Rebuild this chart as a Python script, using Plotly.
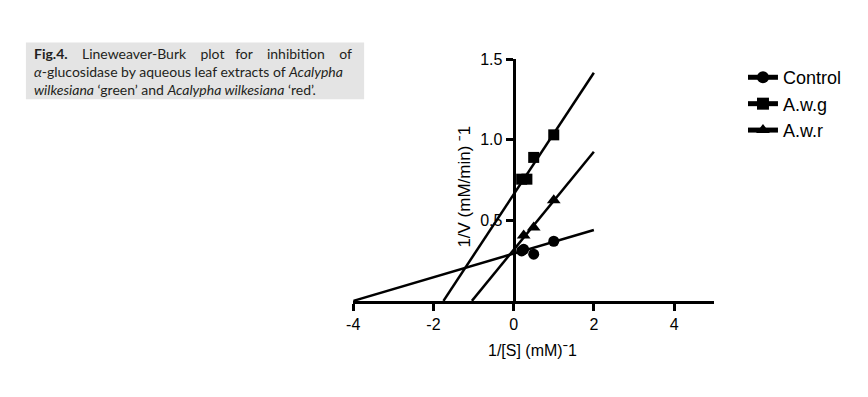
import plotly.graph_objects as go

# page body keeps its default 8px margin, so the figure is 868-16 by 397-16
OFF = 8
W, H = 868 - 2 * OFF, 397 - 2 * OFF


def px(x):
    return (x - OFF) / W


def py(y):
    return 1 - (y - OFF) / H


# ---- data ----
ctrl_x = [0.2, 0.25, 0.5, 1.0]
ctrl_y = [0.31, 0.32, 0.29, 0.37]
awg_x = [0.2, 0.33, 0.5, 1.0]
awg_y = [0.755, 0.755, 0.89, 1.03]
awr_x = [0.25, 0.5, 1.0]
awr_y = [0.405, 0.455, 0.625]

ctrl_fit_x = [-4.0, 2.0]
ctrl_fit_y = [0.0, 0.44]
awg_fit_x = [-1.75, 2.0]
awg_fit_y = [0.0, 1.415]
awr_fit_x = [-1.04, 2.0]
awr_fit_y = [0.0, 0.925]

series_names = ["Control", "A.w.g", "A.w.r"]
series_symbols = ["circle", "square", "triangle-up"]

x_ticks = [-4, -2, 0, 2, 4]
x_ticktext = ["-4", "-2", "0", "2", "4"]
y_ticks = [0.5, 1.0, 1.5]
y_ticktext = ["0.5", "1.0", "1.5"]

AX_FONT = "Liberation Sans, Arial, sans-serif"

fig = go.Figure()

data = [(ctrl_x, ctrl_y, ctrl_fit_x, ctrl_fit_y),
        (awg_x, awg_y, awg_fit_x, awg_fit_y),
        (awr_x, awr_y, awr_fit_x, awr_fit_y)]
sizes = [11, 11, 12]
for (dx, dy, fx, fy), name, sym, sz in zip(data, series_names, series_symbols, sizes):
    fig.add_trace(go.Scatter(x=fx, y=fy, mode="lines", line=dict(color="black", width=2.5),
                             showlegend=False, hoverinfo="skip", cliponaxis=False))
    fig.add_trace(go.Scatter(x=dx, y=dy, mode="markers",
                             marker=dict(symbol=sym, size=sz, color="black"),
                             showlegend=False, cliponaxis=False))
    fig.add_trace(go.Scatter(x=[None], y=[None], mode="lines+markers", name=name,
                             line=dict(color="black", width=3),
                             marker=dict(symbol=sym, size=sz - 1, color="black")))

xd0, xd1 = px(349), px(713)
yd0, yd1 = py(299), py(52)
x0_paper = xd0 + (xd1 - xd0) * 4 / 9

fig.update_layout(
    width=W, height=H,
    margin=dict(l=0, r=0, t=0, b=0),
    paper_bgcolor="white", plot_bgcolor="white",
    font=dict(family=AX_FONT, color="black"),
    xaxis=dict(domain=[xd0, xd1], range=[-4, 5], showgrid=False, zeroline=False,
               showline=True, linecolor="black", linewidth=3,
               ticks="outside", ticklen=7, tickwidth=3, tickcolor="black",
               tickvals=x_ticks, ticktext=x_ticktext,
               tickfont=dict(size=16, family=AX_FONT, color="black")),
    yaxis=dict(domain=[yd0, yd1], range=[0, 1.5], anchor="free", position=x0_paper,
               showgrid=False, zeroline=False,
               showline=True, linecolor="black", linewidth=3,
               ticks="outside", ticklen=7, tickwidth=3, tickcolor="black",
               tickvals=y_ticks, ticktext=y_ticktext,
               tickfont=dict(size=16, family=AX_FONT, color="black")),
    legend=dict(x=px(742), y=py(52), xanchor="left", yanchor="top",
                font=dict(size=18, family=AX_FONT, color="black"),
                bgcolor="rgba(0,0,0,0)", tracegroupgap=0, itemsizing="constant"),
    showlegend=True,
)

fig.add_annotation(text="1/[S] (mM)ˉ1", x=px(530), y=py(350), xref="paper", yref="paper",
                   showarrow=False, font=dict(size=16, family=AX_FONT, color="black"),
                   xanchor="center", yanchor="middle")
fig.add_annotation(text="1/V (mM/min) ˉ1", x=px(461), y=py(182), xref="paper", yref="paper",
                   showarrow=False, textangle=-90, font=dict(size=17, family=AX_FONT, color="black"),
                   xanchor="center", yanchor="middle")

# caption box
fig.add_shape(type="rect", xref="paper", yref="paper",
              x0=px(19), x1=px(360), y0=py(93), y1=py(35),
              fillcolor="#e4e4e4", line=dict(width=0), layer="below")

CAP_FONT = "Lato, Open Sans, sans-serif"
CAP_COL = "#231f20"
NB = "\u00a0"
cap_line1 = ("<b>Fig.4.</b>" + NB * 4 + "Lineweaver-Burk" + NB * 4 + "plot" + NB * 3 + "for"
             + NB * 4 + "inhibition" + NB * 4 + "of")
cap_line2 = "<i>α</i>-glucosidase by aqueous leaf extracts of <i>Acalypha</i>"
cap_line3 = "<i>wilkesiana</i> ‘green’ and <i>Acalypha wilkesiana</i> ‘red’."
fig.add_annotation(text="<br>".join([cap_line1, cap_line2, cap_line3]),
                   x=px(25), y=py(65), xref="paper", yref="paper", showarrow=False,
                   xanchor="left", yanchor="middle", align="left",
                   font=dict(size=14, family=CAP_FONT, color=CAP_COL))

fig.write_html("out.html", config={"displayModeBar": False})
